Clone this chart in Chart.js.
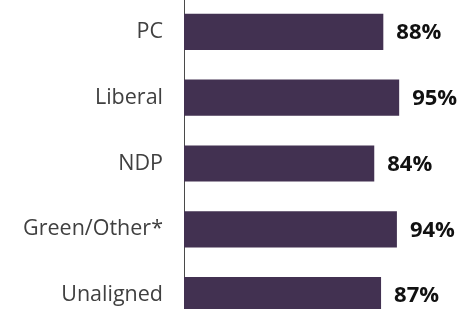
<!DOCTYPE html>
<html>
<head>
<meta charset="utf-8">
<script src="https://cdn.jsdelivr.net/npm/chart.js@4"></script>
<style>
  html, body { margin: 0; padding: 0; background: #fff; overflow: hidden; }
  #wrap { width: 475px; height: 329px; margin-top: -1px; }
</style>
</head>
<body>
<div id="wrap"><canvas id="chart"></canvas></div>
<script>
const categories = ['PC', 'Liberal', 'NDP', 'Green/Other*', 'Unaligned'];
const values = [88, 95, 84, 94, 87];

// labels de valeur à droite des barres
const valueLabels = {
    id: 'valueLabels',
    afterDatasetsDraw(chart) {
        const ctx = chart.ctx;
        const meta = chart.getDatasetMeta(0);
        ctx.save();
        ctx.font = 'bold 22px "Open Sans"';
        ctx.fillStyle = '#111111';
        ctx.textBaseline = 'middle';
        meta.data.forEach((bar, i) => {
            ctx.fillText(values[i] + '%', bar.x + 13, bar.y + 1);
        });
        ctx.restore();
    }
};

new Chart(document.getElementById('chart'), {
    type: 'bar',
    data: {
        labels: categories,
        datasets: [{
            data: values,
            backgroundColor: '#423151',
            borderWidth: 0,
            barPercentage: 0.55,
            categoryPercentage: 1
        }]
    },
    options: {
        indexAxis: 'y',
        responsive: true,
        maintainAspectRatio: false,
        animation: false,
        layout: { padding: { top: 0, bottom: 0, left: 0, right: 64.5 } },
        plugins: { legend: { display: false }, tooltip: { enabled: false } },
        scales: {
            x: {
                min: 0, max: 100,
                display: false
            },
            y: {
                afterFit: (scale) => {
                    scale.width = 184;
                    scale.paddingTop = 0;
                    scale.paddingBottom = 0;
                },
                grid: { display: false, drawTicks: false },
                border: { display: true, color: '#4a4a4a', width: 1 },
                ticks: {
                    color: '#404040',
                    font: { family: 'Open Sans', size: 21.5 },
                    padding: 21
                }
            }
        }
    },
    plugins: [valueLabels]
});
</script>
</body>
</html>
